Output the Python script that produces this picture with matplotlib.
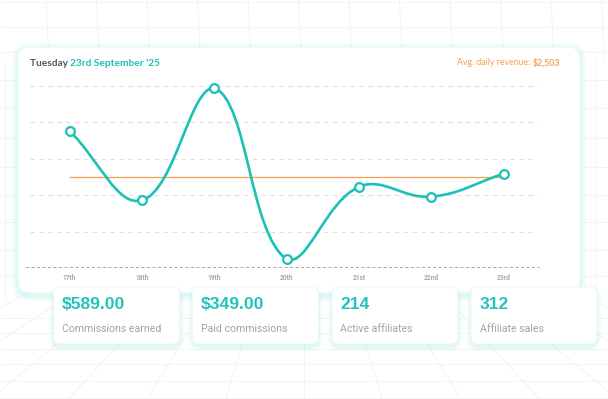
import numpy as np
import matplotlib
matplotlib.use("Agg")
import matplotlib.pyplot as plt
from matplotlib.patches import FancyBboxPatch, PathPatch
from matplotlib.path import Path

# ---------------- data ----------------
days = ["17th", "18th", "19th", "20th", "21st", "22nd", "23rd"]
revenue = [3760, 1860, 4950, 240, 2230, 1960, 2590]
avg_revenue = 2503
title_day = "Tuesday "
title_date = "23rd September '25"
avg_label = "Avg. daily revenue: "
avg_value_label = "$2,503"
stat_values = ["$589.00", "$349.00", "214", "312"]
stat_labels = ["Commissions earned", "Paid commissions", "Active affiliates", "Affiliate sales"]
y_grid = [1000, 2000, 3000, 4000, 5000]

TEAL = "#1cc1b6"
ORANGE = "#f5a04e"
GRID_BG = "#f1f3f3"

W, H = 608, 399
fig = plt.figure(figsize=(W / 100, H / 100), dpi=100)
fig.patch.set_facecolor("white")

bg = fig.add_axes([0, 0, 1, 1])
bg.set_xlim(0, W)
bg.set_ylim(H, 0)
bg.axis("off")

# ---- faint background grid ----
for x in np.arange(-3.5, 620, 50.5):
    bg.plot([x - 1, x + 2], [0, 60], color=GRID_BG, lw=0.7, zorder=0)
for y in [2, 27, 52, 80, 108, 138, 167, 195, 222, 250, 276, 318, 333, 349, 364, 381, 398]:
    bg.plot([0, W], [y, y], color=GRID_BG, lw=0.6, zorder=0)
vx, vy = 304, 142
for k in range(-6, 7):
    xb = vx + k * 78.5
    t0 = (285 - vy) / (399 - vy)
    bg.plot([vx + (xb - vx) * t0, xb], [285, 399], color=GRID_BG, lw=0.7, zorder=0)
for x in [5, 596]:
    bg.plot([x, x], [60, 300], color=GRID_BG, lw=0.6, zorder=0)

# ---- main card with glow ----
cx0, cy0, cx1, cy1 = 18, 47, 580, 293
for i, a in enumerate([0.03, 0.04, 0.05, 0.07, 0.09, 0.12]):
    g = 7 - i
    bg.add_patch(FancyBboxPatch((cx0 - g, cy0 - g + 2), cx1 - cx0 + 2 * g, cy1 - cy0 + 2 * g,
                                boxstyle="round,pad=0,rounding_size=%d" % (12 + g),
                                facecolor="#a8f0ec", edgecolor="none", alpha=a, zorder=1))
bg.add_patch(FancyBboxPatch((cx0, cy0), cx1 - cx0, cy1 - cy0,
                            boxstyle="round,pad=0,rounding_size=12",
                            facecolor="white", edgecolor="#e3f8f7", lw=0.6, zorder=2))

# ---- title texts ----
t1 = bg.text(30, 63.5, title_day, fontsize=7.3, fontweight="bold", color="#555555",
             family="Lato", va="center", ha="left", zorder=5)
bg.annotate(title_date, xy=(1, 0), xycoords=t1, fontsize=7.3, fontweight="bold",
            color=TEAL, family="Lato", va="bottom", ha="left", zorder=5)
a2 = bg.text(560, 62.5, avg_value_label, fontsize=6.3, fontweight="bold", color=ORANGE,
             family="Lato", va="center", ha="right", zorder=5)
bg.annotate(avg_label, xy=(0, 0), xycoords=a2, fontsize=6.3, color=ORANGE,
            family="Lato", va="bottom", ha="right", zorder=5)

# ---- stat cards ----
card_x = [53.5, 192.5, 332, 471]
card_w, card_y, card_h = 126, 287, 57
for i in range(len(stat_values)):
    x0 = card_x[i]
    for j, a in enumerate([0.03, 0.05, 0.07, 0.09, 0.12]):
        g = 6 - j
        bg.add_patch(FancyBboxPatch((x0 - g + 1, card_y - g + 4), card_w + 2 * g - 2, card_h + 2 * g - 2,
                                    boxstyle="round,pad=0,rounding_size=%d" % (8 + g),
                                    facecolor="#a8f0ec", edgecolor="none", alpha=a, zorder=6))
    bg.add_patch(FancyBboxPatch((x0, card_y), card_w, card_h,
                                boxstyle="round,pad=0,rounding_size=7",
                                facecolor="white", edgecolor="#e6f7f6", lw=0.5, zorder=7))
    bg.text(x0 + 8.5, 304.5, stat_values[i], fontsize=12.6, fontweight="bold", color="#22c3bb",
            family="Liberation Sans", va="center", ha="left", zorder=8)
    bg.text(x0 + 8.5, 329.5, stat_labels[i], fontsize=7.6, color="#a3a3a3",
            family="Roboto", va="center", ha="left", zorder=8)

# ---------------- chart axes ----------------
ax_l, ax_r, ax_b, ax_t = 26, 540, 268, 80
ax = fig.add_axes([ax_l / W, (H - ax_b) / H, (ax_r - ax_l) / W, (ax_b - ax_t) / H])
ax.set_zorder(3)
ax.patch.set_visible(False)
xs = np.arange(len(days))
step = 72.33
ax.set_xlim(-(69.7 - ax_l) / step, 6 + (ax_r - 503.7) / step)
ax.set_ylim(0, 5000 * (ax_b - ax_t) / (ax_b - 86))
for s in ax.spines.values():
    s.set_visible(False)
ax.set_yticks(y_grid)
ax.set_yticklabels([])
ax.tick_params(axis="y", length=0)
for yv in y_grid:
    ax.axhline(yv, xmin=(30 - ax_l) / (ax_r - ax_l), xmax=(537 - ax_l) / (ax_r - ax_l),
               color="#dedede", lw=0.8, dashes=(4, 4), zorder=1)
ax.axhline(0, color="#8f8f8f", lw=1.1, dashes=(2.0, 1.6), zorder=1)
ax.set_xticks(xs)
ax.set_xticklabels(days, fontsize=4.8, color="#a8a8a8", fontweight="bold", family="Roboto")
ax.tick_params(axis="x", length=0, pad=4.5)

# average line
ax.plot([xs[0], xs[-1]], [avg_revenue, avg_revenue], color=ORANGE, lw=0.9, zorder=2)

# smooth curve (Chart.js-style spline with tension 0.4, computed in pixel space)
tension = 0.4
P = ax.transData.transform(np.column_stack([xs, revenue]).astype(float))
n = len(P)
prev_cp, next_cp = [], []
for i in range(n):
    prv = P[i - 1] if i > 0 else P[i]
    cur = P[i]
    nxt = P[i + 1] if i < n - 1 else P[i]
    d01 = np.hypot(*(cur - prv))
    d12 = np.hypot(*(nxt - cur))
    tot = d01 + d12
    s01 = d01 / tot if tot else 0
    s12 = d12 / tot if tot else 0
    prev_cp.append(cur - tension * s01 * (nxt - prv))
    next_cp.append(cur + tension * s12 * (nxt - prv))
inv = ax.transData.inverted()
ymax = y_grid[-1]
def to_data(p):
    d = inv.transform(p)
    d[1] = min(max(d[1], 0), ymax)
    return d
verts = [to_data(P[0])]
codes = [Path.MOVETO]
for i in range(n - 1):
    verts += [to_data(next_cp[i]), to_data(prev_cp[i + 1]), to_data(P[i + 1])]
    codes += [Path.CURVE4] * 3
ax.add_patch(PathPatch(Path(verts, codes), fill=False, edgecolor=TEAL, lw=1.9,
                       capstyle="round", joinstyle="round", zorder=3, clip_on=False))
ax.plot(xs, revenue, "o", mfc="white", mec=TEAL, ms=6.3, mew=1.6, zorder=4, clip_on=False)

fig.savefig("out.png", dpi=100, facecolor="white")
